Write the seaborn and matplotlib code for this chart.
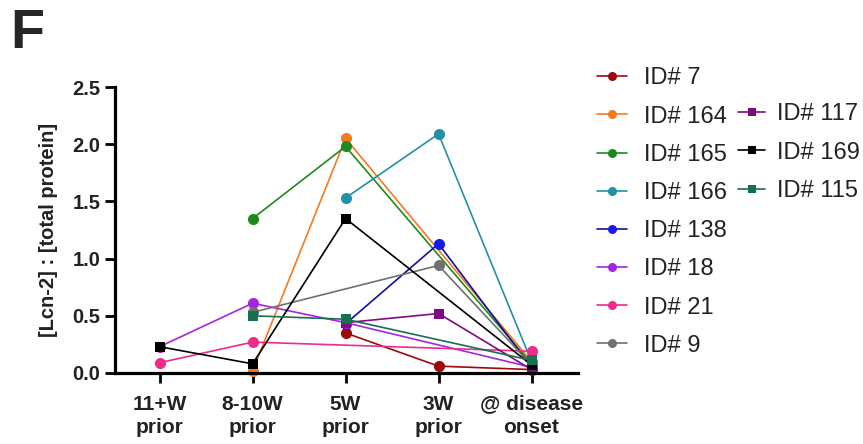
import numpy as np
import pandas as pd
import matplotlib
matplotlib.use("Agg")
import matplotlib.pyplot as plt
from matplotlib.lines import Line2D
import seaborn as sns

nan = np.nan
categories = ["11+W\nprior", "8-10W\nprior", "5W\nprior", "3W\nprior", "@ disease\nonset"]

id7 = [nan, nan, 0.35, 0.06, 0.03]
id164 = [nan, 0.02, 2.05, nan, 0.10]
id165 = [nan, 1.35, 1.98, nan, 0.08]
id166 = [nan, nan, 1.53, 2.09, 0.10]
id138 = [nan, nan, 0.43, 1.13, 0.05]
id18 = [0.23, 0.61, 0.44, nan, 0.05]
id21 = [0.09, 0.27, nan, nan, 0.19]
id9 = [nan, 0.53, nan, 0.94, 0.07]
id117 = [nan, nan, 0.44, 0.52, 0.03]
id169 = [0.23, 0.08, 1.35, nan, 0.07]
id115 = [nan, 0.50, 0.47, nan, 0.11]

labels1 = ["ID# 7", "ID# 164", "ID# 165", "ID# 166", "ID# 138", "ID# 18", "ID# 21", "ID# 9"]
labels2 = ["ID# 117", "ID# 169", "ID# 115"]
series1 = [id7, id164, id165, id166, id138, id18, id21, id9]
series2 = [id117, id169, id115]
colors1 = ["#9E0A0A", "#F5791E", "#1E8A1E", "#2290A6", "#1818E8", "#A526DC", "#EE2C8C", "#707070"]
lcolors1 = ["#9E0A0A", "#F5791E", "#1E8A1E", "#2290A6", "#10109A", "#A526DC", "#EE2C8C", "#707070"]
colors2 = ["#800A80", "#000000", "#17704F"]

sns.set_style("ticks")
plt.rcParams["font.family"] = ["Liberation Sans", "DejaVu Sans"]

fig = plt.figure(figsize=(8.63, 4.44), dpi=100)
ax = fig.add_axes([115 / 863, 1 - 373 / 444, (578 - 115) / 863, (373 - 87) / 444])

def draw(vals, lc, mc, marker, ms):
    df = pd.DataFrame({"pos": np.arange(len(categories)), "value": vals}).dropna()
    sns.lineplot(data=df, x="pos", y="value", color=lc, marker=marker,
                 markersize=ms, markerfacecolor=mc, markeredgecolor=mc,
                 markeredgewidth=0, linewidth=1.2, ax=ax, legend=False,
                 clip_on=False, sort=False)

for vals, c, lc in zip(series1, colors1, lcolors1):
    draw(vals, lc, c, "o", 8)
for vals, c in zip(series2, colors2):
    draw(vals, c, c, "s", 7.5)

ax.set_xlim(-0.48, 4.5)
ax.set_ylim(0, 2.5)
ax.set_xticks(range(len(categories)))
ax.set_xticklabels(categories, fontsize=15, fontweight="bold", color="#222222",
                   linespacing=1.28)
ax.set_yticks([0.0, 0.5, 1.0, 1.5, 2.0, 2.5])
ax.set_yticklabels(["0.0", "0.5", "1.0", "1.5", "2.0", "2.5"], fontsize=14.5,
                   fontweight="bold", color="#222222")
ax.set_xlabel("")
ax.set_ylabel("[Lcn-2] : [total protein]", fontsize=14.5, fontweight="bold",
              color="#222222", labelpad=10)
ax.tick_params(axis="both", length=7.5, width=2, color="black", pad=3)
ax.tick_params(axis="x", pad=8)
for s in ["left", "bottom"]:
    ax.spines[s].set_linewidth(2.3)
    ax.spines[s].set_color("black")
sns.despine(ax=ax)

def handles(cols, lcols, marker, ms):
    return [Line2D([0], [0], color=lc, marker=marker, markersize=ms,
                   markerfacecolor=c, markeredgecolor=c, markeredgewidth=0, linewidth=1.2)
            for c, lc in zip(cols, lcols)]

fs = 17
leg1 = fig.legend(handles(colors1, lcolors1, "o", 6.5), labels1, loc="upper left",
                  bbox_to_anchor=(597 / 863, 1 - 67.5 / 444), frameon=False,
                  fontsize=fs, labelspacing=0.685, handlelength=1.27, handletextpad=0.7,
                  borderaxespad=0, borderpad=0)
leg2 = fig.legend(handles(colors2, colors2, "s", 6), labels2, loc="upper left",
                  bbox_to_anchor=(738 / 863, 1 - 103.5 / 444), frameon=False,
                  fontsize=fs, labelspacing=0.685, handlelength=1.15, handletextpad=0.5,
                  borderaxespad=0, borderpad=0)
for t in leg1.get_texts() + leg2.get_texts():
    t.set_color("#222222")

fig.text(10 / 863, 1 - 8 / 444, "F", fontsize=40, fontweight="bold", va="top", ha="left")

fig.savefig("out.png", dpi=100)
